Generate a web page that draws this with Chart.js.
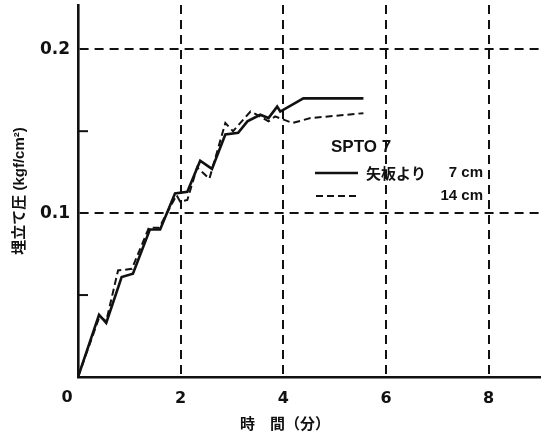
<!DOCTYPE html>
<html>
<head>
<meta charset="utf-8">
<script src="https://cdn.jsdelivr.net/npm/chart.js@4/dist/chart.umd.min.js"></script>
<style>
  html, body { margin: 0; padding: 0; background: #fff; }
  canvas { display: block; }
</style>
</head>
<body>
<canvas id="c" width="546" height="436"></canvas>
<script>
// Time (min) and fill pressure (kgf/cm²) at 7 cm from the sheet pile
const time7 = [0, 0.41, 0.55, 0.85, 1.07, 1.40, 1.60, 1.89, 2.13, 2.38, 2.61, 2.87, 3.12, 3.30, 3.55, 3.71, 3.88, 3.94, 4.39, 5.56];
const pressure7 = [0, 0.038, 0.033, 0.061, 0.063, 0.090, 0.090, 0.112, 0.113, 0.132, 0.127, 0.148, 0.149, 0.156, 0.160, 0.158, 0.165, 0.162, 0.170, 0.170];

// Time (min) and fill pressure (kgf/cm²) at 14 cm from the sheet pile
const time14 = [0, 0.42, 0.55, 0.78, 1.05, 1.38, 1.58, 1.92, 1.99, 2.13, 2.32, 2.56, 2.87, 3.02, 3.36, 3.49, 3.71, 3.84, 4.18, 4.53, 5.56];
const pressure14 = [0, 0.037, 0.034, 0.065, 0.066, 0.091, 0.091, 0.111, 0.107, 0.108, 0.128, 0.121, 0.155, 0.150, 0.162, 0.160, 0.156, 0.159, 0.155, 0.158, 0.161];

// Axis ticks and texts
const xTicks = [0, 2, 4, 6, 8];
const yLabelled = [0.1, 0.2];
const yMinorTicks = [0.05, 0.15];
const xTitle = '時\u3000間（分）';
const yTitle = '埋立て圧 (kgf/cm²)';
const legendTitle = 'SPTO 7';
const legendPrefix = '矢板より';
const legendDepths = ['7 cm', '14 cm'];

const INK = '#111';
const near = (a, b) => Math.abs(a - b) < 1e-6;
const toPoints = (xs, ys) => xs.map((x, i) => ({ x: x, y: ys[i] }));

const latin = '"Liberation Sans", "Noto Sans CJK JP", sans-serif';
const digits = '"DejaVu Sans", sans-serif';
const cjk = '"Noto Sans CJK JP", sans-serif';

// Extra drawing: inward minor ticks, the x "0" label, x title and the legend block
const decorations = {
  id: 'decorations',
  afterDraw(chart) {
    const ctx = chart.ctx;
    const xs = chart.scales.x, ys = chart.scales.y;
    const x0 = xs.getPixelForValue(0);
    const y0 = ys.getPixelForValue(0);
    ctx.save();
    ctx.strokeStyle = INK;
    ctx.fillStyle = INK;

    // inward ticks on the pressure axis
    ctx.lineWidth = 2;
    yMinorTicks.forEach(v => {
      const py = ys.getPixelForValue(v);
      ctx.beginPath();
      ctx.moveTo(x0, py);
      ctx.lineTo(x0 + 10, py);
      ctx.stroke();
    });

    // shared origin label
    ctx.font = 'bold 16px ' + digits;
    ctx.textAlign = 'center';
    ctx.textBaseline = 'middle';
    ctx.fillText(String(xTicks[0]), x0 - 11, y0 + 21);

    // time axis title
    ctx.font = 'bold 15px ' + cjk;
    ctx.textAlign = 'left';
    ctx.fillText(xTitle, 240, 423);

    // legend
    ctx.font = 'bold 17px ' + latin;
    ctx.fillText(legendTitle, 331, 147);

    const rows = [173, 196];
    ctx.lineWidth = 2.6;
    ctx.setLineDash([]);
    ctx.beginPath();
    ctx.moveTo(315, rows[0]);
    ctx.lineTo(358, rows[0]);
    ctx.stroke();

    ctx.lineWidth = 2;
    ctx.setLineDash([7, 4]);
    ctx.beginPath();
    ctx.moveTo(316, rows[1]);
    ctx.lineTo(358, rows[1]);
    ctx.stroke();
    ctx.setLineDash([]);

    ctx.font = 'bold 15px ' + cjk;
    ctx.fillText(legendPrefix, 366, rows[0]);

    ctx.font = 'bold 15px ' + latin;
    ctx.textAlign = 'right';
    ctx.fillText(legendDepths[0], 483, rows[0]);
    ctx.fillText(legendDepths[1], 483, rows[1]);
    ctx.restore();
  }
};

new Chart(document.getElementById('c'), {
  type: 'scatter',
  data: {
    datasets: [
      {
        label: legendDepths[0],
        data: toPoints(time7, pressure7),
        showLine: true,
        borderColor: INK,
        borderWidth: 2.6,
        pointRadius: 0,
        tension: 0,
        fill: false
      },
      {
        label: legendDepths[1],
        data: toPoints(time14, pressure14),
        showLine: true,
        borderColor: INK,
        borderWidth: 2,
        borderDash: [7, 4],
        pointRadius: 0,
        tension: 0,
        fill: false
      }
    ]
  },
  options: {
    responsive: false,
    animation: false,
    layout: { padding: { top: 5, right: 6, left: 0, bottom: 0 } },
    plugins: {
      legend: { display: false },
      tooltip: { enabled: false }
    },
    scales: {
      x: {
        type: 'linear',
        min: 0,
        max: 9,
        afterFit(s) { s.height = 59; s.paddingLeft = 0; s.paddingRight = 0; },
        ticks: {
          stepSize: 2,
          includeBounds: false,
          padding: 12,
          color: INK,
          font: { family: digits, weight: 'bold', size: 16 },
          callback: v => (v === 0 ? '' : (xTicks.includes(v) ? String(v) : ''))
        },
        grid: {
          drawTicks: false,
          tickLength: 0,
          lineWidth: 2,
          color: c => (c.tick && c.tick.value !== 0 ? INK : 'rgba(0,0,0,0)')
        },
        border: { display: true, color: INK, width: 2.6, dash: [9, 6] }
      },
      y: {
        min: 0,
        max: 0.227,
        afterFit(s) { s.width = 78; s.paddingTop = 0; s.paddingBottom = 0; },
        ticks: {
          stepSize: 0.05,
          includeBounds: false,
          padding: 8,
          color: INK,
          font: { family: digits, weight: 'bold', size: 17 },
          callback: v => {
            const hit = yLabelled.find(t => near(t, v));
            return hit !== undefined ? String(hit) : '';
          }
        },
        grid: {
          drawTicks: false,
          tickLength: 0,
          lineWidth: 2,
          color: c => (c.tick && yLabelled.some(t => near(t, c.tick.value)) ? INK : 'rgba(0,0,0,0)')
        },
        border: { display: true, color: INK, width: 2.6, dash: [9, 6] },
        title: {
          display: true,
          text: yTitle,
          color: INK,
          font: { family: latin, weight: 'bold', size: 15 },
          padding: { top: 11, bottom: 0 }
        }
      }
    }
  },
  plugins: [decorations]
});
</script>
</body>
</html>
